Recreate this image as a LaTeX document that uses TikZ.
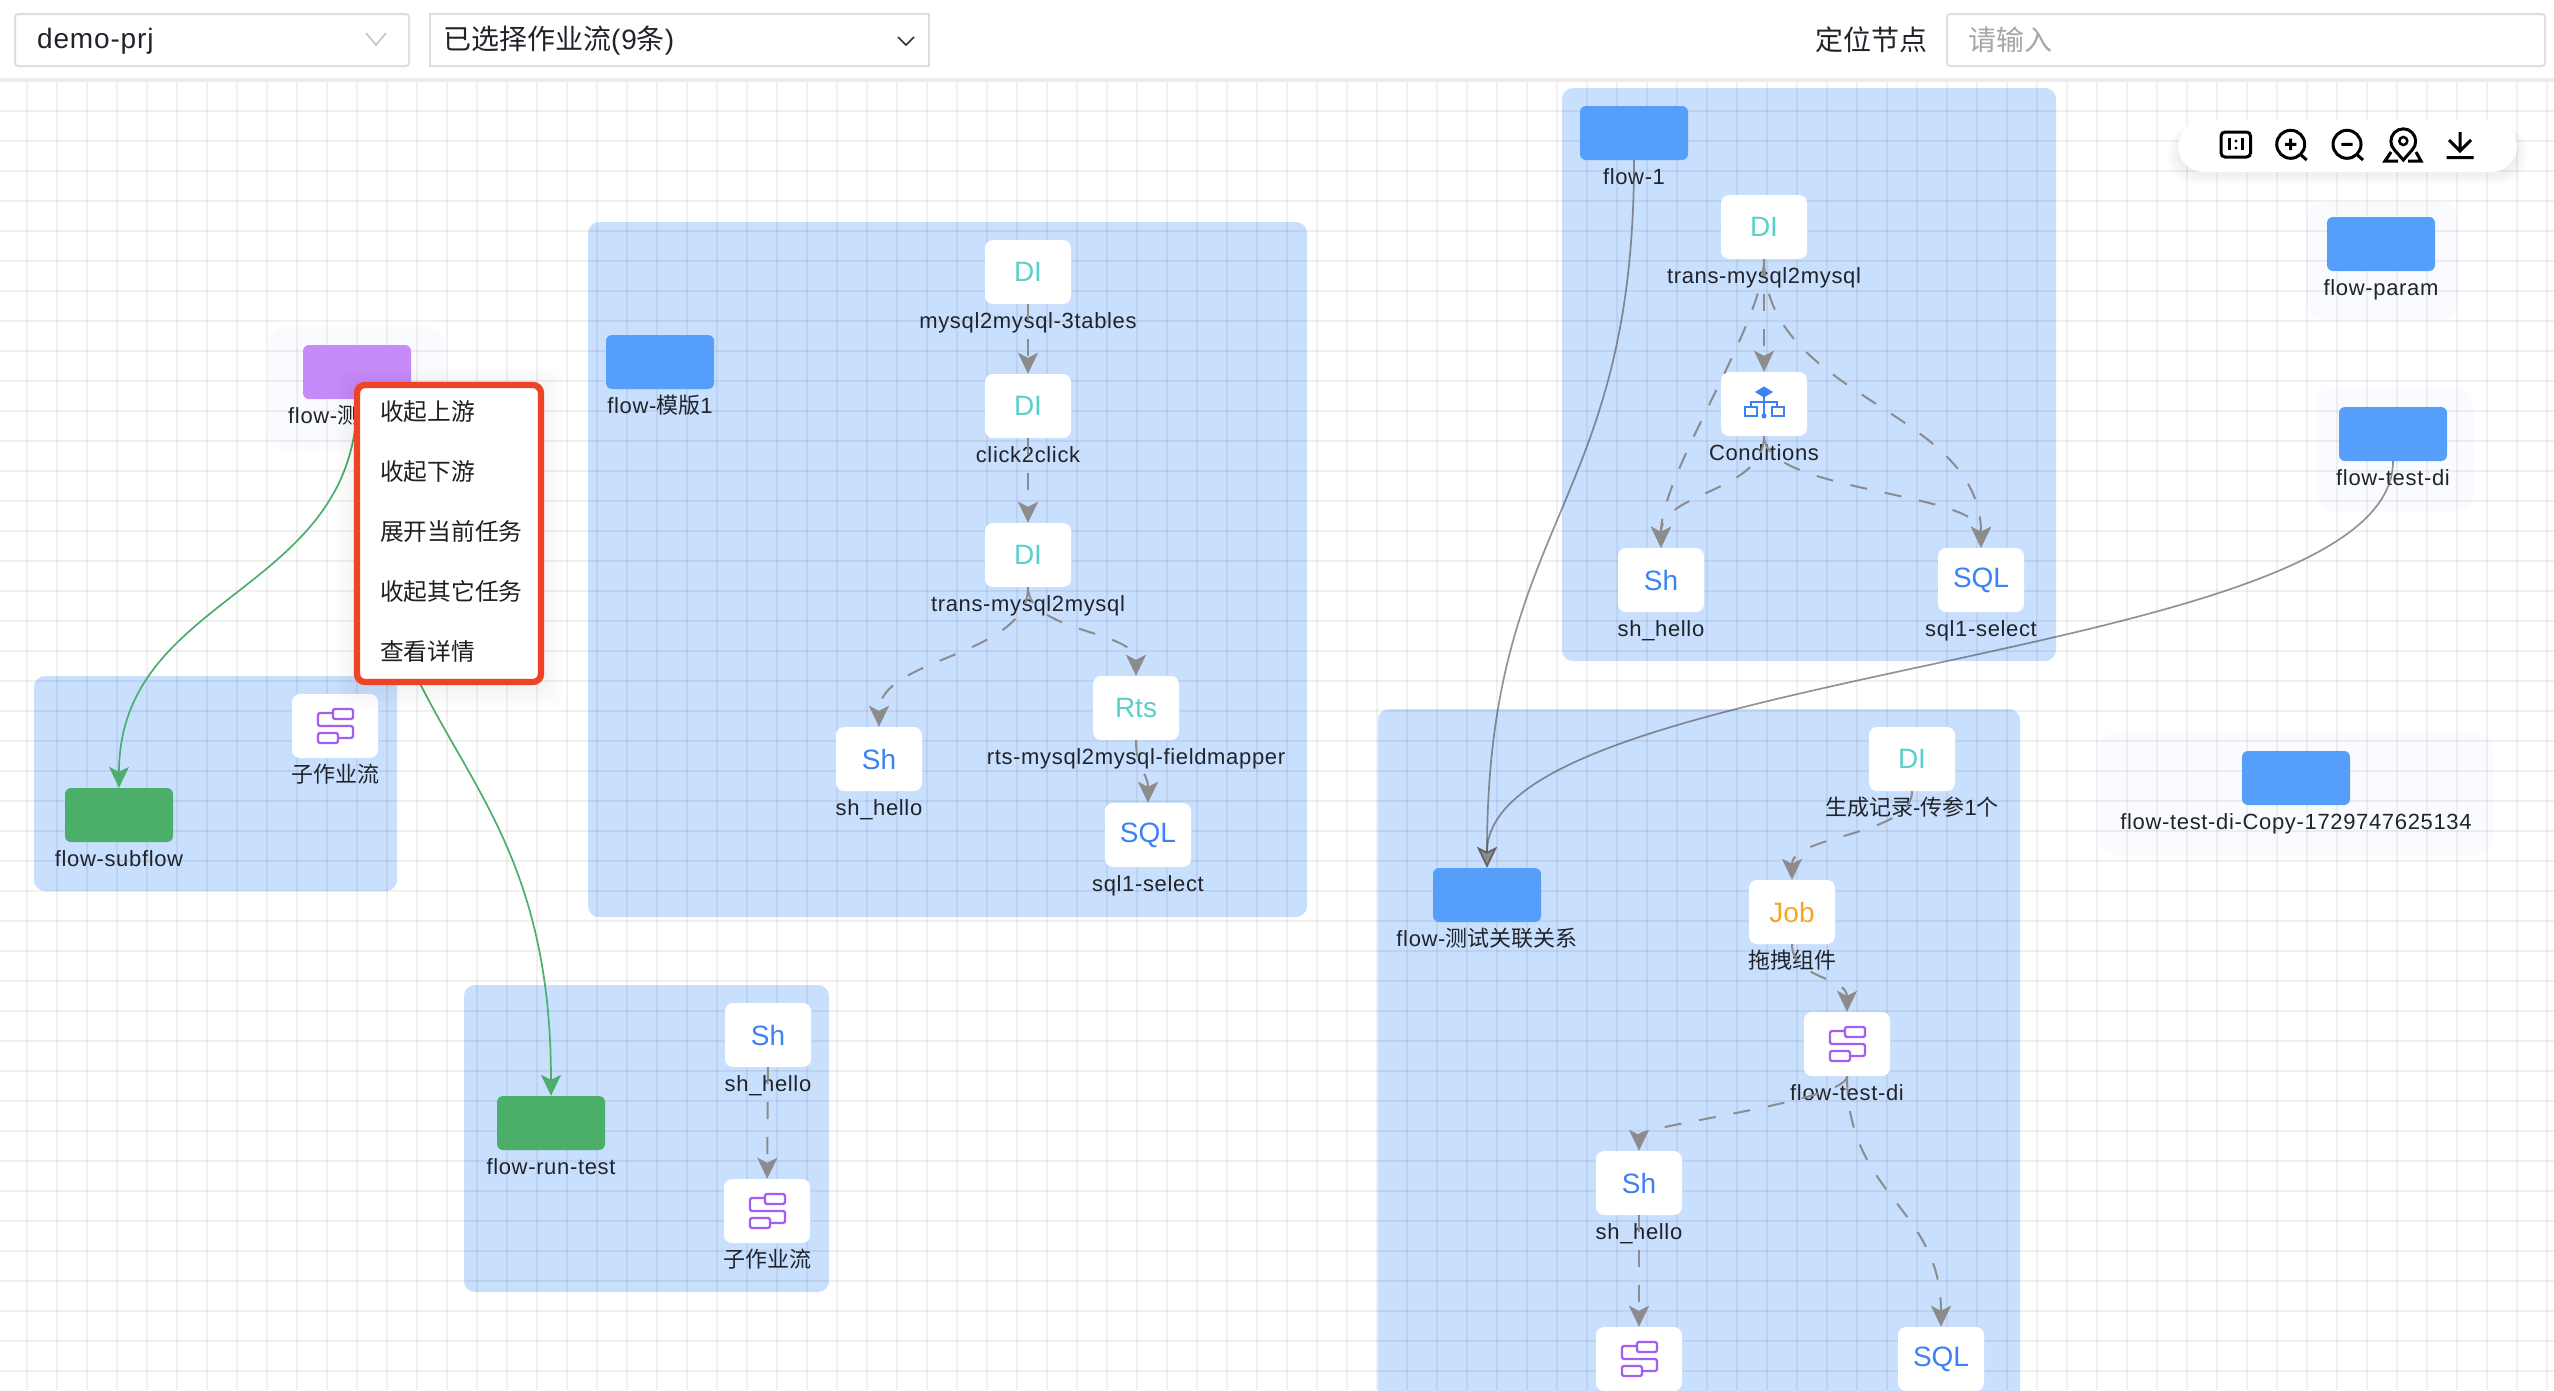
\documentclass[tikz,border=0pt]{standalone}
\usepackage{fontspec}
\usetikzlibrary{positioning,arrows.meta,shapes.geometric}
\setmainfont{Liberation Sans}[LetterSpace=3]
\newfontfamily\cjk{Noto Sans CJK SC}
\newfontfamily\iconfont{Liberation Sans}
\newcommand{\zh}[1]{{\cjk #1}}
\definecolor{groupblue}{HTML}{C9DFFE}
\definecolor{groupfaint}{HTML}{FAFBFE}
\definecolor{flowblue}{HTML}{559FFB}
\definecolor{flowgreen}{HTML}{4CAE6B}
\definecolor{flowpurple}{HTML}{C68BF9}
\definecolor{edgegray}{HTML}{8C8C8C}
\definecolor{shblue}{HTML}{3B82F6}
\definecolor{diteal}{HTML}{5CCFC9}
\definecolor{joborange}{HTML}{F5A623}
\definecolor{subpurple}{HTML}{A55FF0}
\definecolor{menured}{HTML}{EE4326}
\definecolor{labeltext}{HTML}{20242A}
\tikzset{
  group/.style = {fill=groupblue, rounded corners=11pt},
  faintgroup/.style = {fill=groupfaint, rounded corners=18pt},
  gridline/.style = {line width=1.7pt, black, opacity=.055},
  taskbox/.style = {fill=white, rounded corners=8pt, minimum width=86pt,
    minimum height=64pt, inner sep=0pt, font=\iconfont\fontsize{28}{30}\selectfont},
  flowbox/.style = {rounded corners=6pt, minimum width=108pt,
    minimum height=54pt, inner sep=0pt},
  tasktext/.style = {text=labeltext, inner sep=0pt, text height=16pt, text depth=5pt,
    font=\fontsize{22}{25}\selectfont},
  taskedge/.style = {draw=edgegray, line width=2pt, dash pattern=on 17pt off 18pt,
    -{Stealth[length=21pt,width=20pt,inset=5pt,fill=edgegray]}},
  flowedge/.style = {line width=1.7pt, -{Stealth[length=21pt,width=20pt,inset=5pt]}},
  linkedge/.style = {flowedge, draw=black!70, draw opacity=.6,
    -{Stealth[length=21pt,width=20pt,inset=5pt,fill=edgegray]}},
  selectbox/.style = {draw=black!13, line width=2pt, fill=white, rounded corners=3pt},
  toptext/.style = {text=labeltext, inner sep=0pt, font=\fontsize{28}{32}\selectfont},
  menutext/.style = {anchor=west, text=black!88, inner sep=0pt, font=\cjk\fontsize{23.7}{28}\selectfont},
  toolline/.style = {draw=black, line width=3pt},
  subflowicon/.pic = {
    \draw[subpurple, line width=2.2pt, rounded corners=1.5pt]
      (-2,-17) rectangle (18,-7) (-2,-13) -- (-17,-13) -- (-17,0) -- (18,0) -- (18,12) -- (2,12)
      (-17,7) rectangle (3,17);
  },
  conditionicon/.pic = {
    \fill[shblue] (-9,-12) -- (0,-17.5) -- (9,-12) -- (0,-6.5) -- cycle;
    \draw[shblue, line width=2pt] (0,-10) -- (0,12) (-13,3) |- (13,-2) -- (13,3)
      (-19.5,2.5) rectangle (-7.5,11.5) (7.5,2.5) rectangle (19.5,11.5);
    \fill[shblue] (0,12) circle (2.5);
  }
}
\begin{document}
\begin{tikzpicture}[x=1pt,y=-1pt]
  \useasboundingbox (0,0) rectangle (2554,1390);
  \clip (0,0) rectangle (2554,1390);
  \fill[white] (0,0) rectangle (2554,1390);

  % groups
  \fill[faintgroup] (268,327) rectangle (445,450);
  \fill[faintgroup] (2307,201) rectangle (2457,321);
  \fill[faintgroup] (2316,388) rectangle (2473,511);
  \fill[faintgroup] (2098,733) rectangle (2493,855);
  \fill[group] (34,676) rectangle (397,891);
  \fill[group] (588,222) rectangle (1307,917);
  \fill[group] (464,985) rectangle (829,1292);
  \fill[group] (1562,88) rectangle (2056,661);
  \fill[group] (1378,709) rectangle (2020,1420);

  % grid
  \foreach \x in {27,57,...,2547}
    \draw[gridline] (\x,80) -- (\x,1390);
  \foreach \y in {110.7,140.7,...,1385}
    \draw[gridline] (0,\y) -- (2554,\y);

  % top bar
  \fill[white] (0,0) rectangle (2554,79);
  \draw[black!7, line width=4pt] (0,80) -- (2554,80);
  \draw[selectbox] (15,14) rectangle (409,66);
  \draw[selectbox, rounded corners=0pt] (430,14) rectangle (929,66);
  \draw[selectbox] (1947,14) rectangle (2545,66);
  \node (prj) [toptext, anchor=west] at (37,41) {demo-prj};
  \node (chosen) [toptext, anchor=west] at (443,41) {\zh{已选择作业流}(9\zh{条})};
  \node (locate) [toptext, anchor=east] at (1928,40) {\zh{定位节点}};
  \node (hint) [toptext, anchor=west, text=black!35] at (1968,40) {\zh{请输入}};
  \draw[black!22, line width=1.7pt] (366,33) -- (376,45) -- (386,33);
  \draw[black!80, line width=1.7pt] (898,37) -- (906,45) -- (914,37);

  % tool bar
  \foreach \s in {2,4,...,10}
    \fill[black, opacity=.01, rounded corners=26pt] (2178-\s,126) rectangle (2517+\s,174+\s);
  \fill[white, rounded corners=26pt] (2178,120) rectangle (2517,172);
  \draw[toolline, rounded corners=4pt] (2221,132) rectangle (2250.5,157);
  \draw[toolline] (2229.3,138) -- (2229.3,150) (2242.7,138) -- (2242.7,150);
  \fill (2236,141) circle (1.7) (2236,148) circle (1.7);
  \draw[toolline] (2290.7,144.3) circle (14) (2300.5,154.5) -- (2306.7,160) (2285,144.3) -- (2296.4,144.3) (2290.7,138.6) -- (2290.7,150);
  \draw[toolline] (2347,144.3) circle (14) (2356.8,154.5) -- (2363,160) (2341.3,144.3) -- (2352.7,144.3);
  \draw[toolline] (2403.3,160) -- (2394.5,150) arc (135:405:12.4) -- cycle;
  \draw[black, line width=2.5pt] (2403.3,141) circle (4);
  \draw[toolline] (2391,152) -- (2385,161) -- (2398,161) (2416,152) -- (2421,161) -- (2408,161);
  \draw[toolline] (2460,132) -- (2460,150) (2449,140) -- (2460,151) -- (2471,140) (2446.5,157.7) -- (2473.5,157.7);

  % flows outside of the groups
  \node (test) [flowbox, fill=flowpurple] at (357,372) {};
  \node (testtext) [tasktext, anchor=west] at (288,418) {flow-\zh{测}};
  \node (param) [flowbox, fill=flowblue] at (2381,244) {};
  \node (paramtext) [tasktext, below=8pt of param] {flow-param};
  \node (testdi) [flowbox, fill=flowblue] at (2393,434) {};
  \node (testditext) [tasktext, below=8pt of testdi] {flow-test-di};
  \node (copy) [flowbox, fill=flowblue] at (2296,778) {};
  \node (copytext) [tasktext, below=8pt of copy] {flow-test-di-Copy-1729747625134};

  % flow-subflow
  \node (subflow) [flowbox, fill=flowgreen] at (119,815) {};
  \node (subflowtext) [tasktext, below=8pt of subflow] {flow-subflow};
  \node (sub1) [taskbox] at (335,726) {};
  \pic at (sub1) {subflowicon};
  \node (sub1text) [tasktext, below=8pt of sub1] {\zh{子作业流}};

  % flow-模版1
  \node (tmpl) [flowbox, fill=flowblue] at (660,362) {};
  \node (tmpltext) [tasktext, below=8pt of tmpl] {flow-\zh{模版}1};
  \node (di1) [taskbox, text=diteal] at (1028,272) {DI};
  \node (di1text) [tasktext, below=8pt of di1] {mysql2mysql-3tables};
  \node (di2) [taskbox, text=diteal] at (1028,406) {DI};
  \node (di2text) [tasktext, below=8pt of di2] {click2click};
  \node (di3) [taskbox, text=diteal] at (1028,555) {DI};
  \node (di3text) [tasktext, below=8pt of di3] {trans-mysql2mysql};
  \node (sh1) [taskbox, text=shblue] at (879,759) {Sh};
  \node (sh1text) [tasktext, below=8pt of sh1] {sh\_hello};
  \node (rts) [taskbox, text=diteal] at (1136,708) {Rts};
  \node (rtstext) [tasktext, below=8pt of rts] {rts-mysql2mysql-fieldmapper};
  \node (sql1) [taskbox, text=shblue] at (1148,835) {SQL};
  \node (sql1text) [tasktext, below=8pt of sql1] {sql1-select};
  \draw[taskedge] (di1) -- (di2);
  \draw[taskedge] (di2) -- (di3);
  \draw[taskedge] (di3.south) .. controls +(0,70) and +(0,-70) .. (sh1.north);
  \draw[taskedge] (di3.south) .. controls +(0,45) and +(0,-45) .. (rts.north);
  \draw[taskedge] (rts.south) .. controls +(0,30) and +(0,-30) .. (sql1.north);

  % flow-run-test
  \node (runtest) [flowbox, fill=flowgreen] at (551,1123) {};
  \node (runtesttext) [tasktext, below=8pt of runtest] {flow-run-test};
  \node (sh2) [taskbox, text=shblue] at (768,1035) {Sh};
  \node (sh2text) [tasktext, below=8pt of sh2] {sh\_hello};
  \node (sub2) [taskbox] at (767,1211) {};
  \pic at (sub2) {subflowicon};
  \node (sub2text) [tasktext, below=8pt of sub2] {\zh{子作业流}};
  \draw[taskedge] (sh2) -- (sub2);

  % flow-1
  \node (one) [flowbox, fill=flowblue] at (1634,133) {};
  \node (onetext) [tasktext, below=8pt of one] {flow-1};
  \node (di4) [taskbox, text=diteal] at (1764,227) {DI};
  \node (di4text) [tasktext, below=8pt of di4] {trans-mysql2mysql};
  \node (cond) [taskbox] at (1764,404) {};
  \pic at (cond) {conditionicon};
  \node (condtext) [tasktext, below=8pt of cond] {Conditions};
  \node (sh3) [taskbox, text=shblue] at (1661,580) {Sh};
  \node (sh3text) [tasktext, below=8pt of sh3] {sh\_hello};
  \node (sql2) [taskbox, text=shblue] at (1981,580) {SQL};
  \node (sql2text) [tasktext, below=8pt of sql2] {sql1-select};
  \draw[taskedge] (di4) -- (cond);
  \draw[taskedge] (di4.south) .. controls +(0,65) and +(0,-75) .. (sh3.north);
  \draw[taskedge] (di4.south) .. controls +(0,140) and +(0,-140) .. (sql2.north);
  \draw[taskedge] (cond.south) .. controls +(0,56) and +(0,-56) .. (sh3.north);
  \draw[taskedge] (cond.south) .. controls +(0,56) and +(0,-56) .. (sql2.north);

  % flow-测试关联关系
  \node (link) [flowbox, fill=flowblue] at (1487,895) {};
  \node (linktext) [tasktext, below=8pt of link] {flow-\zh{测试关联关系}};
  \node (di5) [taskbox, text=diteal] at (1912,759) {DI};
  \node (di5text) [tasktext, below=8pt of di5] {\zh{生成记录}-\zh{传参}1\zh{个}};
  \node (job) [taskbox, text=joborange] at (1792,912) {Job};
  \node (jobtext) [tasktext, below=8pt of job] {\zh{拖拽组件}};
  \node (sub3) [taskbox] at (1847,1044) {};
  \pic at (sub3) {subflowicon};
  \node (sub3text) [tasktext, below=8pt of sub3] {flow-test-di};
  \node (sh4) [taskbox, text=shblue] at (1639,1183) {Sh};
  \node (sh4text) [tasktext, below=8pt of sh4] {sh\_hello};
  \node (sub4) [taskbox] at (1639,1359) {};
  \pic at (sub4) {subflowicon};
  \node (sql3) [taskbox, text=shblue] at (1941,1359) {SQL};
  \draw[taskedge] (di5.south) .. controls +(0,45) and +(0,-45) .. (job.north);
  \draw[taskedge] (job.south) .. controls +(0,35) and +(0,-35) .. (sub3.north);
  \draw[taskedge] (sub3.south) .. controls +(0,25) and +(0,-25) .. (sh4.north);
  \draw[taskedge] (sub3.south) .. controls +(0,120) and +(0,-120) .. (sql3.north);
  \draw[taskedge] (sh4) -- (sub4);

  % links between the flows
  \draw[linkedge] (one.south) .. controls +(0,350) and +(0,-350) .. (link.north);
  \draw[linkedge] (testdi.south) .. controls +(0,203) and +(0,-203) .. (link.north);
  \draw[flowedge, draw=flowgreen] (test.south) .. controls +(0,195) and +(0,-195) .. (subflow.north);
  \draw[flowedge, draw=flowgreen] (test.south) .. controls +(0,350) and +(0,-350) .. (runtest.north);

  % context menu
  \foreach \s in {2,4,...,20}
    \fill[black, opacity=.004, rounded corners=12pt] (354-\s,382-\s+4) rectangle (544+\s,685+\s+4);
  \draw[draw=menured, fill=white, line width=6.3pt, rounded corners=8pt] (357,385) rectangle (541,682);
  \node (up) [menutext] at (380,412) {收起上游};
  \node (down) [menutext] at (380,472) {收起下游};
  \node (open) [menutext] at (380,531) {展开当前任务};
  \node (others) [menutext] at (380,591) {收起其它任务};
  \node (detail) [menutext] at (380,651) {查看详情};
\end{tikzpicture}
\end{document}
